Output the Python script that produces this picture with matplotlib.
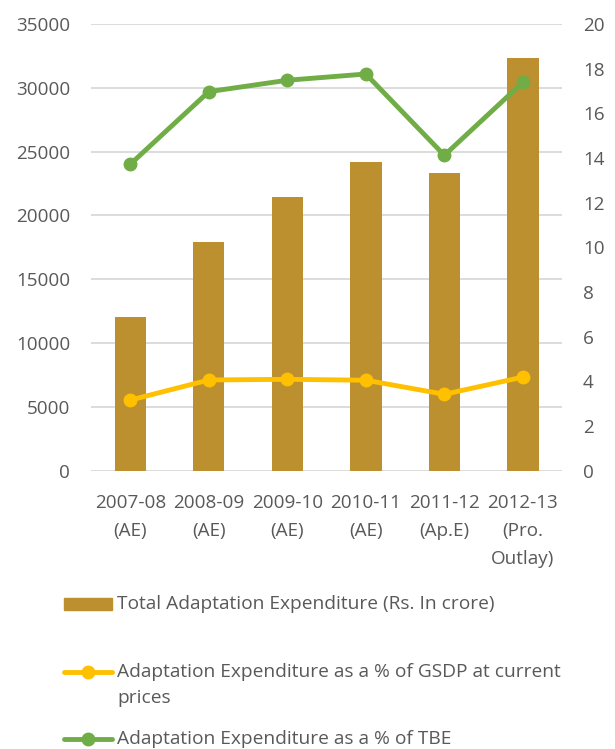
import numpy as np
import matplotlib
matplotlib.use("Agg")
import matplotlib.pyplot as plt
from matplotlib.lines import Line2D
from matplotlib.patches import Rectangle

plt.rcParams['font.family'] = ['Open Sans', 'DejaVu Sans']

# data
years = ['2007-08\n(AE)', '2008-09\n(AE)', '2009-10\n(AE)', '2010-11\n(AE)',
         '2011-12\n(Ap.E)', '2012-13\n(Pro.\nOutlay)']
total_exp = [12070, 17920, 21450, 24170, 23310, 32340]
pct_gsdp = [3.16, 4.06, 4.09, 4.05, 3.42, 4.19]
pct_tbe = [13.72, 16.97, 17.48, 17.76, 14.12, 17.39]

bar_col = '#BC8F2F'
gsdp_col = '#FFC000'
tbe_col = '#70AD47'
txt_col = '#595959'
grid_col = '#D9D9D9'
fs = 13.6
lw, ms = 3.5, 9

fig = plt.figure(figsize=(6.15, 7.49), dpi=100)
ax = fig.add_axes([0.148, 0.3716, 0.766, 0.5964])
ax2 = ax.twinx()

x = np.arange(len(years))
ax.bar(x, total_exp, width=0.4, color=bar_col, zorder=2)
ax.set_ylim(0, 35000)
ax.set_yticks(np.arange(0, 35001, 5000))
ax.set_xlim(-0.5, len(years) - 0.5)
ax.set_xticks(x)
ax.set_xticklabels(years, linespacing=1.7, fontsize=fs)
ax.yaxis.grid(True, color=grid_col, linewidth=1.3, zorder=0)
ax.set_axisbelow(True)

ax2.plot(x, pct_gsdp, color=gsdp_col, lw=lw, marker='o', ms=ms, zorder=3)
ax2.plot(x, pct_tbe, color=tbe_col, lw=lw, marker='o', ms=ms, zorder=3)
ax2.set_ylim(0, 20)
ax2.set_yticks(np.arange(0, 21, 2))

for a in (ax, ax2):
    for s in a.spines.values():
        s.set_visible(False)
    a.tick_params(length=0, colors=txt_col)
    a.tick_params(axis='y', labelsize=fs, pad=15)
ax.tick_params(axis='x', pad=17)

# legend, drawn by hand in figure coords
W, H = 615, 749
def fx(px):
    return px / W
def fy(py):
    return 1 - py / H

lfs = 13.8
fig.add_artist(Rectangle((fx(64), fy(609.5)), fx(112) - fx(64), 12 / H,
                         color=bar_col, transform=fig.transFigure))
fig.text(fx(117), fy(604), 'Total Adaptation Expenditure (Rs. In crore)',
         fontsize=lfs, color=txt_col, va='center')

for col, yy in [(gsdp_col, 672), (tbe_col, 739)]:
    fig.add_artist(Line2D([fx(64), fx(112)], [fy(yy), fy(yy)], color=col, lw=lw,
                          solid_capstyle='round', transform=fig.transFigure))
    fig.add_artist(Line2D([fx(88)], [fy(yy)], color=col, marker='o', ms=ms,
                          transform=fig.transFigure))
fig.text(fx(117), fy(672), 'Adaptation Expenditure as a % of GSDP at current',
         fontsize=lfs, color=txt_col, va='center')
fig.text(fx(117), fy(698), 'prices', fontsize=lfs, color=txt_col, va='center')
fig.text(fx(117), fy(739), 'Adaptation Expenditure as a % of TBE',
         fontsize=lfs, color=txt_col, va='center')

fig.savefig('out.png', dpi=100, facecolor='white')
